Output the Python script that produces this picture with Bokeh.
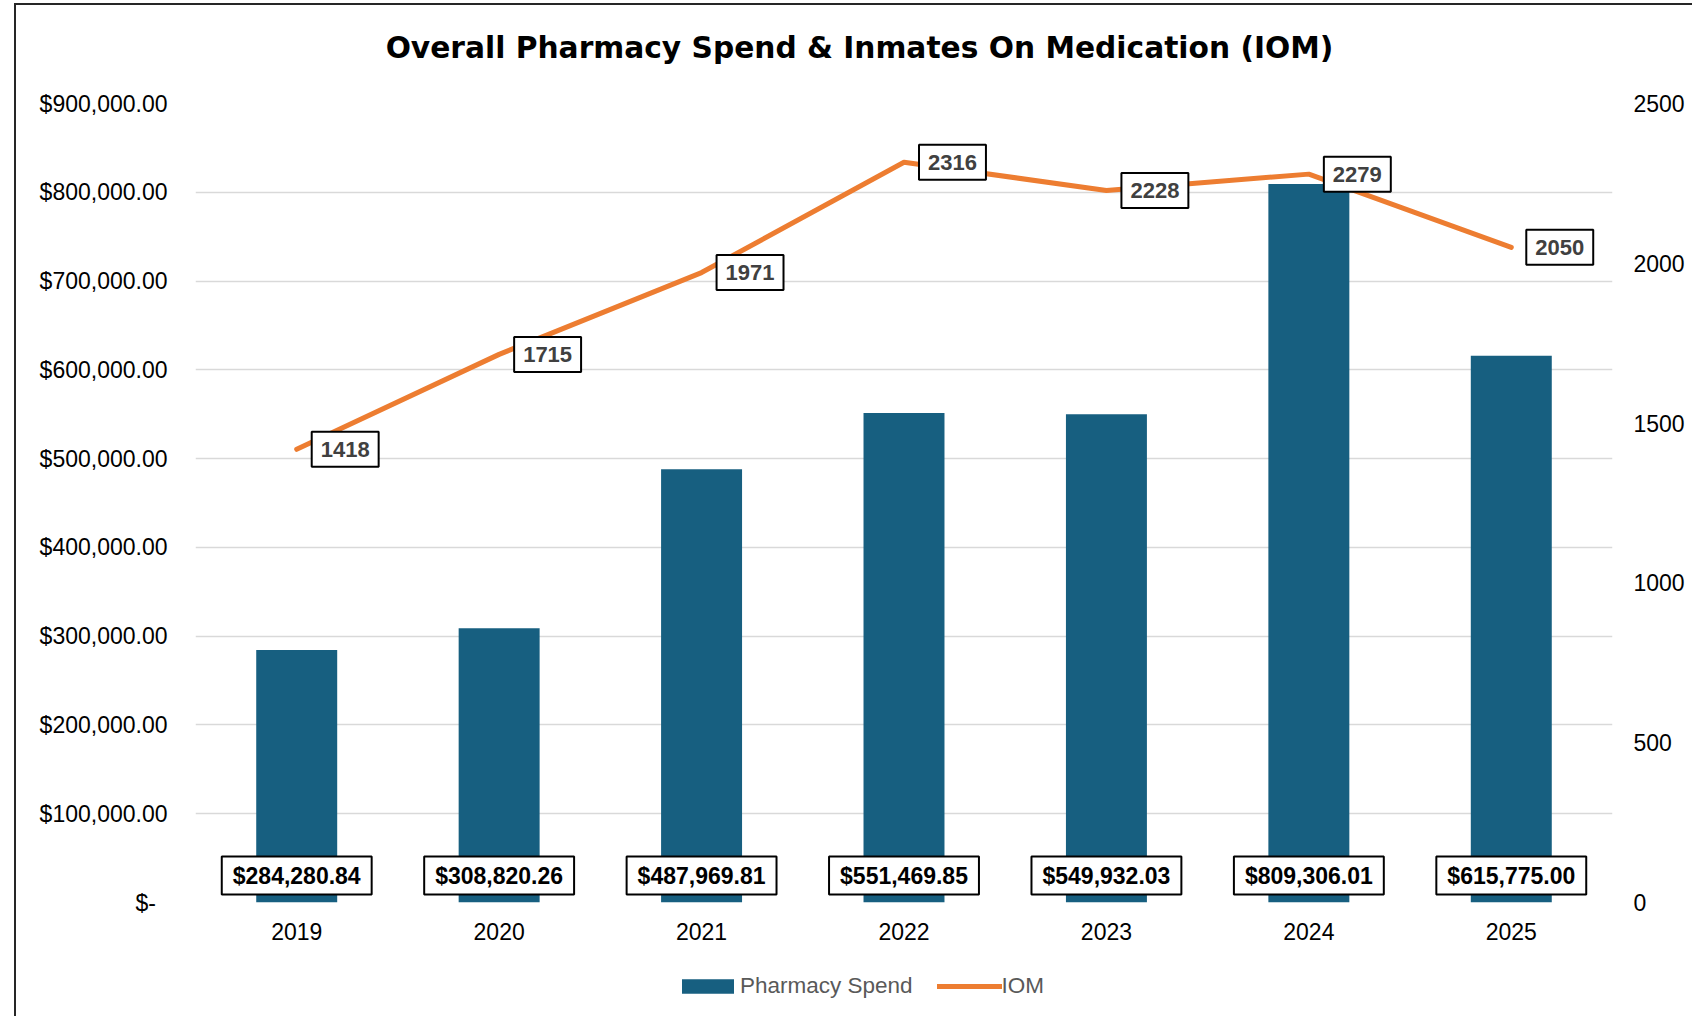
from bokeh.plotting import figure
from bokeh.layouts import column
from bokeh.models import (ColumnDataSource, LinearAxis, Range1d, FactorRange, Legend, LegendItem,
                          NumeralTickFormatter, FixedTicker, InlineStyleSheet, Label)
from bokeh.core.properties import value
from bokeh.embed import file_html
from bokeh.resources import INLINE

# ---- data ----
years = ["2019", "2020", "2021", "2022", "2023", "2024", "2025"]
spend = [284280.84, 308820.26, 487969.81, 551469.85, 549932.03, 809306.01, 615775.00]
iom = [1418, 1715, 1971, 2316, 2228, 2279, 2050]
left_ticks = [0, 100000, 200000, 300000, 400000, 500000, 600000, 700000, 800000, 900000]
right_ticks = [0, 500, 1000, 1500, 2000, 2500]
title_text = "Overall Pharmacy Spend & Inmates On Medication (IOM)"
series_names = ["Pharmacy Spend", "IOM"]

spend_labels = ["${:,.2f}".format(v) for v in spend]
iom_labels = [str(v) for v in iom]

BAR = "#175F80"
ORANGE = "#ED7D31"
GRID = "#D9D9D9"
EDGE = "#262626"

src = ColumnDataSource(dict(year=years, spend=spend, iom=iom, base=[0] * len(years),
                            spend_lbl=spend_labels, iom_lbl=iom_labels))

SIDE = dict(min_border_left=195, min_border_right=80, frame_width=1417)


def border_css(top):
    css = (":host { position: relative; }"
           ":host::after { content: ''; position: absolute; left: 14px; top: %s; right: 0; bottom: 0;"
           " border-left: 2px solid %s; pointer-events: none;" % ("3px" if top else "0", EDGE))
    if top:
        css += " border-top: 2px solid %s;" % EDGE
    css += " }"
    return [InlineStyleSheet(css=css)]


def blank(fig):
    fig.outline_line_color = None
    fig.grid.visible = False
    fig.background_fill_color = "white"
    fig.border_fill_color = "white"


# ---- title strip ----
p0 = figure(frame_height=88, min_border_top=0, min_border_bottom=0,
            x_axis_type=None, y_axis_type=None, x_range=Range1d(0, 1), y_range=Range1d(0, 1),
            output_backend="svg", toolbar_location=None, **SIDE)
blank(p0)
p0.add_layout(Label(x=664, y=41, x_units="screen", y_units="screen", text=title_text,
                    text_align="center", text_baseline="middle", text_font="DejaVu Sans",
                    text_font_style="bold", text_font_size="29.7px", text_color="#000000"))
p0.stylesheets = border_css(True)

# ---- main chart ----
p = figure(x_range=FactorRange(factors=years, range_padding=0), y_range=Range1d(0, 900000),
           frame_height=799, min_border_top=15, min_border_bottom=60,
           output_backend="svg", toolbar_location=None, **SIDE)
p.outline_line_color = None
p.background_fill_color = "white"
p.border_fill_color = "white"

yax = p.yaxis[0]
yax.ticker = FixedTicker(ticks=left_ticks)
yax.formatter = NumeralTickFormatter(format="$0,0.00")
yax.major_label_overrides = {0: "$-\u2002"}

p.extra_y_ranges = {"iom": Range1d(0, 2500)}
rax = LinearAxis(y_range_name="iom", ticker=FixedTicker(ticks=right_ticks))
p.add_layout(rax, "right")

for ax in [yax, rax, p.xaxis[0]]:
    ax.axis_line_color = None
    ax.major_tick_line_color = None
    ax.minor_tick_line_color = None
    ax.major_tick_out = 0
    ax.major_tick_in = 0
    ax.major_label_text_font = "Liberation Sans"
    ax.major_label_text_font_size = "23px"
    ax.major_label_text_color = "#000000"
yax.major_label_standoff = 28
rax.major_label_standoff = 21
p.xaxis[0].major_label_standoff = 20

p.xgrid.grid_line_color = None
p.ygrid.ticker = FixedTicker(ticks=left_ticks)
p.ygrid.grid_line_color = GRID
p.ygrid.grid_line_width = 1.5

p.vbar(x="year", top="spend", width=0.4, source=src, fill_color=BAR, line_color=None)
p.line(x="year", y="iom", y_range_name="iom", source=src, line_color=ORANGE,
       line_width=5, line_cap="round", line_join="round")

p.text(x="year", y="base", text="spend_lbl", source=src, text_align="center",
       text_baseline="middle", y_offset=-27, text_font=value("Liberation Sans"),
       text_font_style="bold", text_font_size="23px", text_color="#000000",
       background_fill_color="white", border_line_color="#000000", border_line_width=2,
       padding=dict(left=11, right=11, top=6, bottom=6))

p.text(x="year", y="iom", y_range_name="iom", text="iom_lbl", source=src, text_align="left",
       text_baseline="middle", x_offset=15, text_font=value("Liberation Sans"),
       text_font_style="bold", text_font_size="22px", text_color="#404040",
       background_fill_color="white", border_line_color="#000000", border_line_width=2,
       padding=dict(left=9, right=9, top=10, bottom=10))
p.stylesheets = border_css(False)

# ---- legend strip ----
p2 = figure(frame_height=54, min_border_top=0, min_border_bottom=0,
            x_axis_type=None, y_axis_type=None,
            x_range=FactorRange(factors=years, range_padding=0), y_range=Range1d(0, 900000),
            output_backend="svg", toolbar_location=None, **SIDE)
blank(p2)
p2.extra_y_ranges = {"iom": Range1d(0, 2500)}
lb = p2.vbar(x="year", top="spend", width=0.4, source=src, fill_color=BAR, line_color=None,
             visible=False)
ll = p2.line(x="year", y="iom", y_range_name="iom", source=src, line_color=ORANGE,
             line_width=5, line_cap="round", visible=False)

legend = Legend(items=[LegendItem(label=series_names[0], renderers=[lb]),
                       LegendItem(label=series_names[1], renderers=[ll])],
                location=(480, 17), orientation="horizontal",
                label_text_font="Liberation Sans", label_text_font_size="22.5px",
                label_text_color="#595959",
                glyph_width=65, glyph_height=18, label_standoff=0, spacing=24,
                padding=0, margin=0, border_line_alpha=0, background_fill_alpha=0,
                inactive_fill_alpha=0)
p2.add_layout(legend)
p2.stylesheets = border_css(False)

layout = column(p0, p, p2, spacing=0)
open("out.html", "w").write(file_html(layout, INLINE))
